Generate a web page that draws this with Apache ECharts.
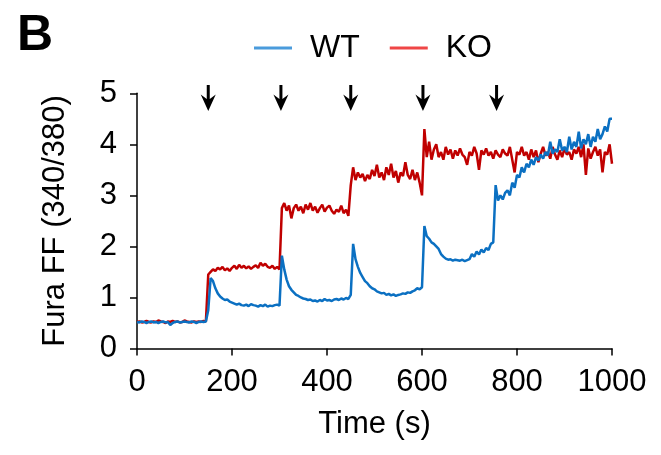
<!DOCTYPE html>
<html>
<head>
<meta charset="utf-8">
<script src="https://cdn.jsdelivr.net/npm/echarts@6/dist/echarts.min.js"></script>
<style>
html,body{margin:0;padding:0;background:#fff;}
#chart{width:661px;height:455px;}
</style>
</head>
<body>
<div id="chart"></div>
<script>
// Sampling: every 5 s from 0 to 1000 s
var timeStart = 0, timeStep = 5;

var wtValues = [
0.52,0.51,0.53,0.52,0.50,0.52,0.53,0.51,0.52,0.50,
0.52,0.53,0.51,0.52,0.46,0.50,0.52,0.53,0.51,0.52,
0.53,0.52,0.51,0.53,0.52,0.50,0.52,0.53,0.52,0.53,
0.75,1.38,1.32,1.18,1.08,1.02,0.98,0.95,0.96,0.92,
0.90,0.88,0.86,0.88,0.85,0.84,0.86,0.83,0.87,0.85,
0.84,0.82,0.85,0.83,0.86,0.82,0.84,0.83,0.85,0.86,
0.84,1.82,1.55,1.35,1.22,1.15,1.10,1.05,1.03,1.00,
0.98,0.97,0.95,0.96,0.93,0.94,0.92,0.95,0.93,0.97,
0.94,0.95,0.93,0.96,0.97,0.95,0.98,0.96,0.99,0.97,
1.05,2.05,1.75,1.60,1.48,1.40,1.32,1.28,1.22,1.18,
1.16,1.12,1.10,1.08,1.09,1.05,1.07,1.04,1.06,1.03,
1.05,1.06,1.08,1.07,1.10,1.09,1.12,1.14,1.18,1.16,
1.20,2.40,2.20,2.15,2.08,2.05,2.00,1.95,1.85,1.80,
1.76,1.74,1.75,1.72,1.74,1.73,1.72,1.74,1.71,1.73,
1.75,1.85,1.80,1.90,1.84,1.94,1.88,1.97,1.93,2.05,
2.08,3.20,2.90,3.00,2.92,3.05,3.10,3.00,3.25,3.15,
3.40,3.35,3.55,3.45,3.62,3.55,3.70,3.60,3.75,3.68,
3.80,3.72,3.85,3.78,4.05,3.82,3.90,3.85,4.10,3.88,
3.95,3.85,4.15,3.90,4.05,3.95,4.25,3.92,4.10,4.00,
4.20,3.95,4.15,4.05,4.30,4.10,4.20,4.35,4.25,4.50,
4.50
];

var koValues = [
0.52,0.53,0.51,0.52,0.54,0.52,0.51,0.53,0.52,0.55,
0.53,0.52,0.50,0.53,0.52,0.54,0.52,0.53,0.51,0.52,
0.55,0.53,0.52,0.51,0.53,0.52,0.53,0.52,0.54,0.53,
1.45,1.50,1.55,1.52,1.58,1.55,1.60,1.53,1.57,1.52,
1.58,1.62,1.56,1.64,1.58,1.62,1.57,1.61,1.56,1.60,
1.63,1.58,1.68,1.62,1.66,1.60,1.58,1.62,1.56,1.60,
1.55,2.75,2.85,2.70,2.80,2.55,2.75,2.82,2.70,2.78,
2.65,2.82,2.72,2.85,2.70,2.78,2.66,2.75,2.82,2.68,
2.76,2.80,2.70,2.64,2.72,2.68,2.80,2.65,2.72,2.60,
3.20,3.55,3.30,3.45,3.35,3.42,3.28,3.40,3.32,3.50,
3.38,3.60,3.35,3.45,3.30,3.55,3.40,3.62,3.35,3.48,
3.25,3.45,3.38,3.65,3.40,3.32,3.50,3.30,3.45,3.25,
3.00,4.30,3.75,4.05,3.70,3.90,4.00,3.75,3.85,3.70,
3.95,3.80,3.90,3.72,3.88,3.78,3.92,3.80,3.75,3.60,
3.85,3.78,3.95,3.82,3.50,3.88,3.80,3.92,3.78,3.85,
3.72,3.88,3.80,3.75,3.90,3.82,3.78,3.95,3.70,3.45,
3.85,3.80,3.95,3.78,3.85,3.70,3.90,3.75,3.88,3.65,
3.82,3.95,3.78,3.85,3.72,3.95,3.80,3.70,3.88,3.75,
3.92,3.80,3.85,3.70,3.90,3.82,3.95,3.75,4.00,3.40,
3.92,3.72,3.85,3.95,3.78,3.90,3.45,3.85,3.80,4.00,
3.62
];

// Stimulus (arrow) times, s
var stimTimes = [150, 303, 450, 602, 757];
var arrowLevel = 4.91;

var xTicks = [0, 200, 400, 600, 800, 1000];
var yTicks = [0, 1, 2, 3, 4, 5];

function pairs(vals) {
  var out = [];
  for (var i = 0; i < vals.length; i++) out.push([timeStart + i * timeStep, vals[i]]);
  return out;
}

var arrowPath = 'path://M5.6,0 L8.4,0 L8.4,14 L14,9.5 L7,26 L0,9.5 L5.6,14 Z';

var chart = echarts.init(document.getElementById('chart'), null, {renderer: 'canvas'});
var font = 'Liberation Sans, Arial, sans-serif';
chart.setOption({
  animation: false,
  backgroundColor: '#ffffff',
  title: {
    text: 'B', left: 12, top: 6,
    textStyle: {fontFamily: font, fontSize: 50, fontWeight: 'bold', color: '#000'}
  },
  legend: {
    top: 27, left: 249,
    itemWidth: 38, itemHeight: 3, itemGap: 30,
    icon: 'rect',
    textStyle: {fontFamily: font, fontSize: 32, color: '#000', padding: [0, 0, 0, 13]},
    data: [
      {name: 'WT', itemStyle: {color: '#4a9bdc'}},
      {name: 'KO', itemStyle: {color: '#ef4646'}}
    ]
  },
  grid: {left: 137, right: 49, top: 93.3, bottom: 106.5, containLabel: false},
  xAxis: {
    type: 'value', min: xTicks[0], max: xTicks[xTicks.length - 1], interval: 200,
    name: 'Time (s)', nameLocation: 'middle', nameGap: 60,
    nameTextStyle: {fontFamily: font, fontSize: 31, color: '#000'},
    axisLine: {lineStyle: {color: '#000', width: 1.5}},
    axisTick: {show: true, inside: false, length: 7, lineStyle: {color: '#000', width: 1.5}},
    axisLabel: {fontFamily: font, fontSize: 31, color: '#000', margin: 18,
      formatter: function (v) { return String(v); }},
    splitLine: {show: false}
  },
  yAxis: {
    type: 'value', min: yTicks[0], max: yTicks[yTicks.length - 1], interval: 1,
    name: 'Fura FF (340/380)', nameLocation: 'middle', nameGap: 66, nameRotate: 90,
    nameTextStyle: {fontFamily: font, fontSize: 31, color: '#000'},
    axisLine: {show: true, lineStyle: {color: '#000', width: 1.5}},
    axisTick: {show: true, inside: false, length: 7, lineStyle: {color: '#000', width: 1.5}},
    axisLabel: {fontFamily: font, fontSize: 31, color: '#000', margin: 20,
      formatter: function (v) { return String(v); }},
    splitLine: {show: false}
  },
  series: [
    {
      name: 'WT', type: 'line', data: pairs(wtValues), showSymbol: false,
      lineStyle: {color: '#0b70c2', width: 2.5}, itemStyle: {color: '#0b70c2'}, z: 3
    },
    {
      name: 'KO', type: 'line', data: pairs(koValues), showSymbol: false,
      lineStyle: {color: '#c00000', width: 2.5}, itemStyle: {color: '#c00000'}, z: 2
    },
    {
      name: 'stim', type: 'scatter', silent: true, clip: false,
      data: stimTimes.map(function (t) { return [t, arrowLevel]; }),
      symbol: arrowPath, symbolSize: [15, 26],
      itemStyle: {color: '#000', opacity: 1}, z: 5
    }
  ]
});
</script>
</body>
</html>
